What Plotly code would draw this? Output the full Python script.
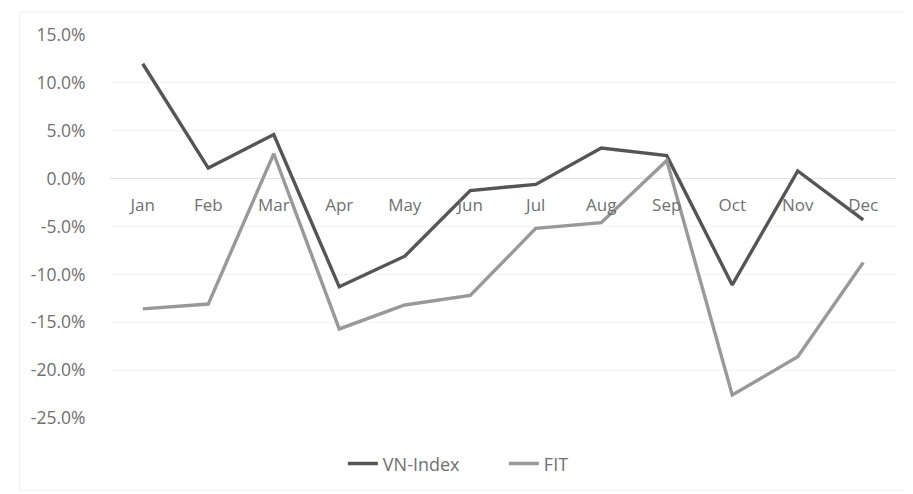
import plotly.graph_objects as go

months = ["Jan", "Feb", "Mar", "Apr", "May", "Jun", "Jul", "Aug", "Sep", "Oct", "Nov", "Dec"]
vn_index = [12.0, 1.1, 4.6, -11.3, -8.1, -1.25, -0.6, 3.2, 2.4, -11.1, 0.8, -4.3]
fit = [-13.6, -13.1, 2.6, -15.7, -13.2, -12.2, -5.2, -4.6, 1.9, -22.6, -18.6, -8.75]
y_ticks = [15, 10, 5, 0, -5, -10, -15, -20, -25]
y_tick_text = [f"{v:.1f}%" for v in y_ticks]

fig = go.Figure()
fig.add_trace(go.Scatter(x=months, y=vn_index, mode="lines", name="VN-Index",
                         line=dict(color="#555555", width=3.4)))
fig.add_trace(go.Scatter(x=months, y=fit, mode="lines", name="FIT",
                         line=dict(color="#999999", width=3.4)))

zero_pos = (0 - (-25)) / (15 - (-25))

fig.update_layout(
    width=905, height=486,
    paper_bgcolor="white", plot_bgcolor="white",
    margin=dict(l=102, r=17, t=27, b=76, autoexpand=False),
    font=dict(family="Open Sans", size=17, color="#777777"),
    xaxis=dict(
        type="category", anchor="free", position=zero_pos, automargin=False,
        showline=False, showgrid=False,
        ticks="outside", ticklen=11, tickcolor="rgba(0,0,0,0)",
        tickfont=dict(size=17, color="#707070"),
        range=[-0.5, 11.5],
    ),
    yaxis=dict(
        range=[-25, 15], tickvals=y_ticks, ticktext=y_tick_text, automargin=False,
        showgrid=True, gridcolor="#f3f3f3", gridwidth=1,
        zeroline=True, zerolinecolor="#e2e2e2", zerolinewidth=1,
        showline=False, ticks="outside", ticklen=20, tickcolor="rgba(0,0,0,0)",
        tickfont=dict(size=17.5, color="#707070"),
    ),
    legend=dict(orientation="h", xref="container", x=0.37, xanchor="left",
                yref="container", y=0.062, yanchor="middle",
                font=dict(size=18, color="#707070"), entrywidth=116),
    showlegend=True,
)
fig.add_shape(type="rect", xref="paper", yref="paper",
              x0=-0.115, x1=1.012, y0=-0.19, y1=1.06,
              line=dict(color="#eeeeee", width=1))

fig.write_html("out.html")
